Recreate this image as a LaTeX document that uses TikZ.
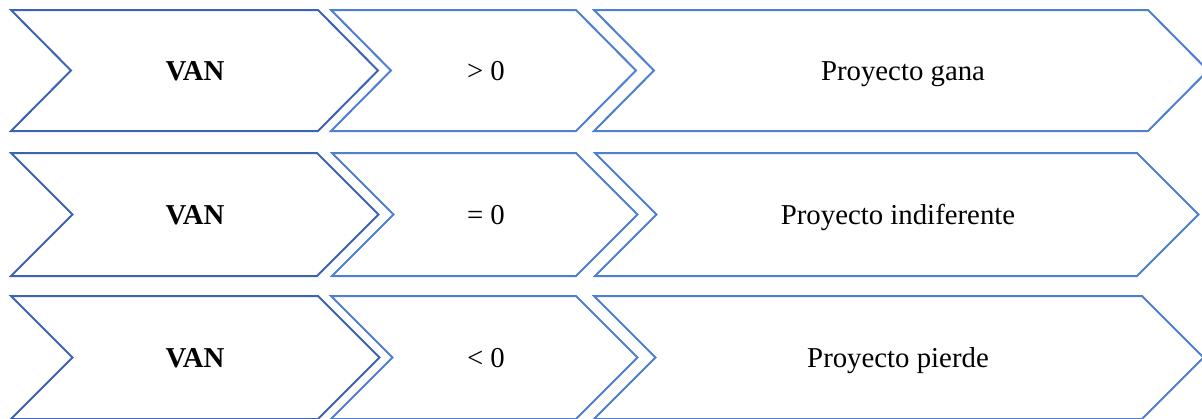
\documentclass[tikz,border=0pt]{standalone}
\usepackage{fontspec}
\setmainfont{Liberation Serif}
\definecolor{chevdark}{HTML}{3D64B4}
\definecolor{chevlight}{HTML}{4F7FD0}
\tikzset{
  chevA/.style={draw=chevdark, line width=2pt, line join=miter, fill=white},
  chevB/.style={draw=chevlight, line width=2pt, line join=miter, fill=white},
  lbl/.style={font=\fontsize{28.8}{34}\selectfont, inner sep=0pt, anchor=base}
}
% \chevpath{style}{x1}{x2}{ytop}{ybot}{depth}
\newcommand{\chevpath}[6]{%
  \path[#1] (#2,#4) -- (#3,#4) -- ({#3+#6},{(#4+#5)/2}) -- (#3,#5) -- (#2,#5) -- ({#2+#6},{(#4+#5)/2}) -- cycle;}
\begin{document}
\begin{tikzpicture}[x=1pt,y=-1pt]
\useasboundingbox (0,0) rectangle (1202,418);
\clip (0,0) rectangle (1202,418);
% row 1
\chevpath{chevB}{594}{1148}{10}{131}{60}
\chevpath{chevB}{331}{576}{10}{131}{60}
\chevpath{chevA}{11}{318}{10}{131}{60}
\node[lbl] (v1) at (195,80) {\textbf{VAN}};
\node[lbl] (c1) at (486,80) {> 0};
\node[lbl] (r1) at (903,80) {Proyecto gana};
% row 2
\chevpath{chevB}{595}{1137}{153}{276}{61.5}
\chevpath{chevB}{332}{576}{153}{276}{61.5}
\chevpath{chevA}{11}{317}{153}{276}{61.5}
\node[lbl] (v2) at (195,224) {\textbf{VAN}};
\node[lbl] (c2) at (486,224) {= 0};
\node[lbl] (r2) at (898,224) {Proyecto indiferente};
% row 3
\chevpath{chevB}{594}{1142}{296}{419}{61.5}
\chevpath{chevB}{331}{576}{296}{419}{61.5}
\chevpath{chevA}{11}{318}{296}{419}{61.5}
\node[lbl] (v3) at (195,367) {\textbf{VAN}};
\node[lbl] (c3) at (486,367) {< 0};
\node[lbl] (r3) at (898,367) {Proyecto pierde};
\end{tikzpicture}
\end{document}
